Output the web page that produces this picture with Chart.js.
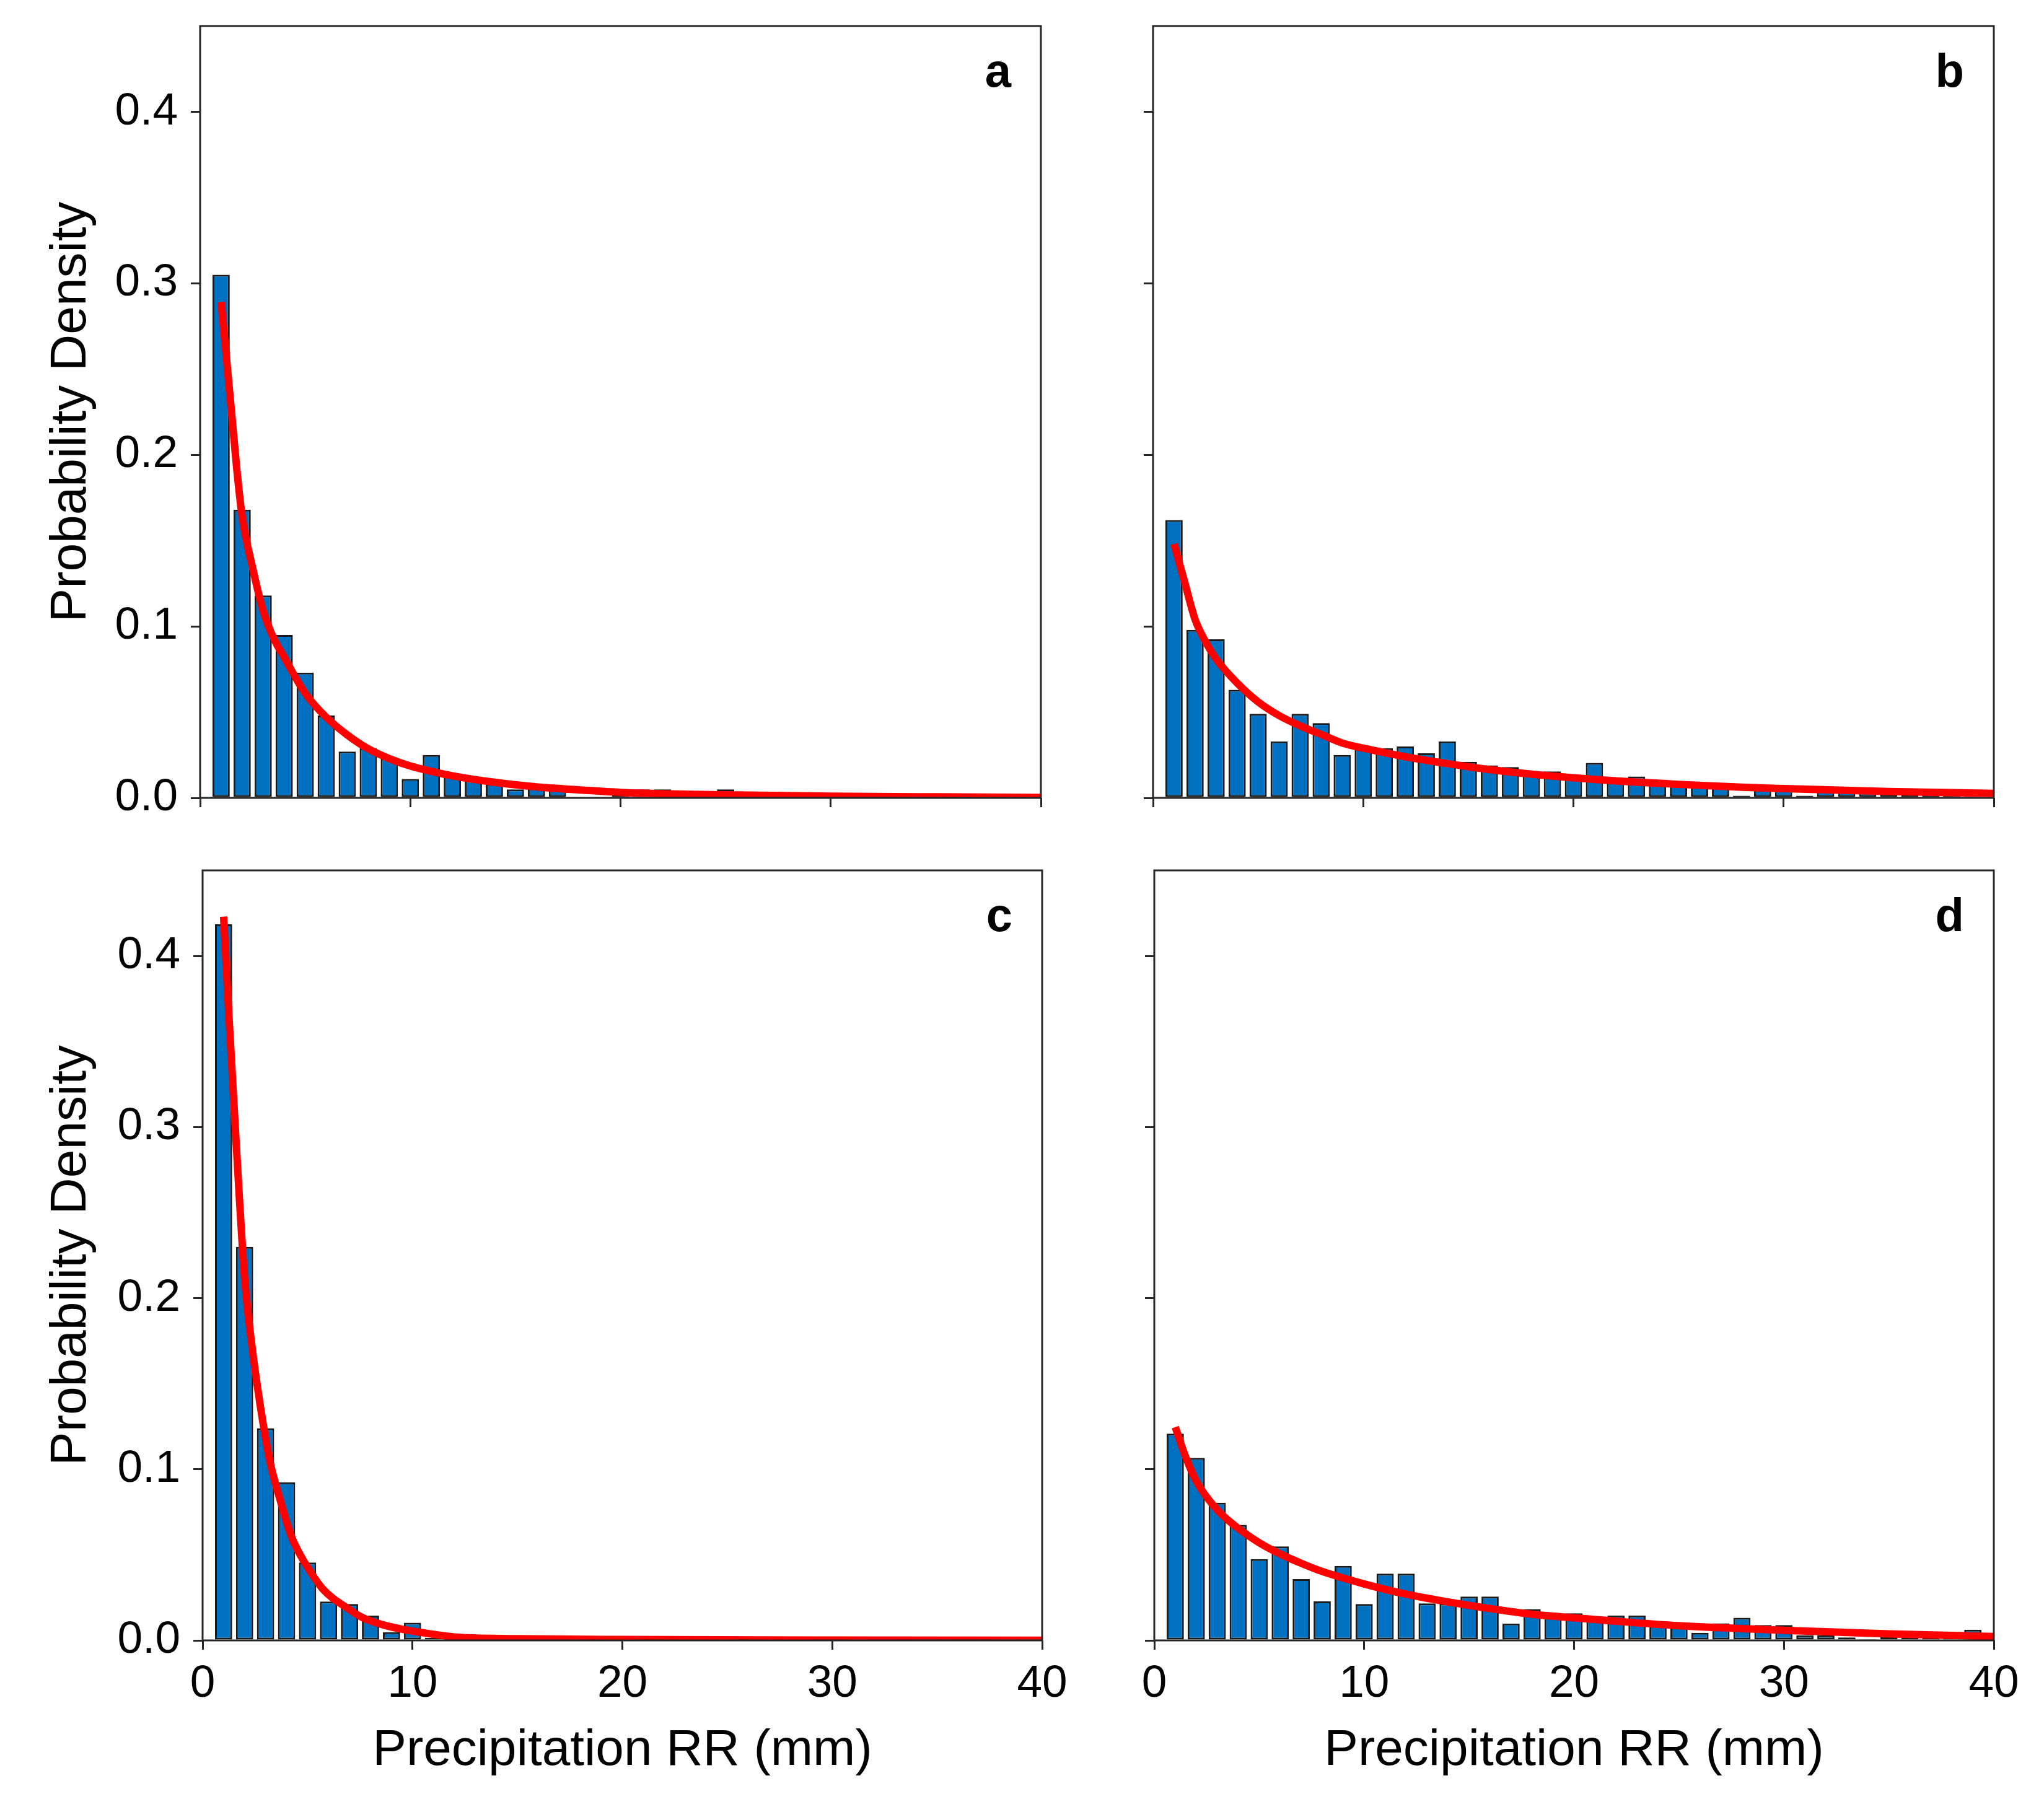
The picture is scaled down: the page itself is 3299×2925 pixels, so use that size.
<!DOCTYPE html>
<html>
<head>
<meta charset="utf-8">
<script src="https://cdn.jsdelivr.net/npm/chart.js@4.4.1/dist/chart.umd.min.js"></script>
<style>
html,body{margin:0;padding:0;background:#ffffff;width:3299px;height:2925px;overflow:hidden;}
canvas{position:absolute;display:block;}
</style>
</head>
<body>
<canvas id="pa"></canvas>
<canvas id="pb"></canvas>
<canvas id="pc"></canvas>
<canvas id="pd"></canvas>
<script>
// ---------- DATA ----------
const bins = [1,2,3,4,5,6,7,8,9,10,11,12,13,14,15,16,17,18,19,20,21,22,23,24,25,26,27,28,29,30,31,32,33,34,35,36,37,38,39];

const densityA = [0.305,0.168,0.118,0.095,0.073,0.048,0.027,0.029,0.023,0.011,
                  0.025,0.014,0.010,0.008,0.005,0.006,0.006,0.0005,0.0005,0.002,
                  0.005,0.005,0.0015,0.0015,0.005,0.001,0.002,0.001,0.001,0.001,
                  0.0026,0.0026,0.001,0.0005,0.001,0.0005,0.0022,0.0005,0.0005];
const densityB = [0.162,0.098,0.0925,0.063,0.049,0.033,0.049,0.0436,0.025,0.030,
                  0.029,0.030,0.026,0.033,0.021,0.019,0.018,0.0156,0.0154,0.012,
                  0.0204,0.011,0.0125,0.0096,0.0096,0.0078,0.0085,0.0013,0.0066,0.0066,
                  0.0013,0.004,0.0058,0.0058,0.003,0.003,0.0025,0.004,0.0025];
const densityC = [0.4185,0.230,0.124,0.0924,0.0455,0.0227,0.0213,0.0145,0.0048,0.0103,
                  0.0015,0.001,0.0008,0.0008,0.001,0.001,0.0015,0,0,0,
                  0,0,0,0,0,0,0,0,0,0,
                  0,0,0,0,0,0,0,0,0];
const densityD = [0.1208,0.1066,0.0805,0.0675,0.0475,0.0549,0.0358,0.0228,0.0435,0.0213,
                  0.039,0.039,0.0216,0.0216,0.0256,0.0256,0.0099,0.0183,0.016,0.0158,
                  0.0125,0.0146,0.0146,0.010,0.008,0.0044,0.010,0.0132,0.009,0.009,
                  0.003,0.003,0.0017,0.0003,0.002,0.002,0.002,0.002,0.0062];

const fitXA = [1,1.25,1.5,1.75,2,2.5,3,3.5,4,5,6,7,8,9,10,11,12,14,16,18,20,25,30,35,40];
const fitYA = [0.289,0.257,0.224,0.191,0.164,0.134,0.109,0.093,0.082,0.061,0.047,0.0367,0.0286,0.0229,0.0186,0.0155,0.0129,0.0091,0.0064,0.0047,0.0032,0.0018,0.001,0.0006,0.0003];

const fitXB = [1,1.5,2,2.5,3,4,5,6,7,8,9,10,12,14,16,18,20,22,25,28,30,35,40];
const fitYB = [0.148,0.126,0.104,0.091,0.081,0.067,0.056,0.048,0.042,0.037,0.032,0.029,0.024,0.020,0.0165,0.0138,0.0117,0.0099,0.0079,0.0062,0.0054,0.0037,0.0026];

const fitXC = [1,1.25,1.5,1.75,2,2.35,2.75,3.2,3.7,4.2,4.7,5.2,5.7,6.2,6.7,7.6,8.6,9.6,10.6,12,15,20,30,40];
const fitYC = [0.423,0.366,0.312,0.259,0.212,0.172,0.137,0.105,0.0819,0.0617,0.0489,0.0389,0.0304,0.0247,0.0205,0.0134,0.0091,0.0063,0.0043,0.002,0.001,0.0005,0.0002,0.0001];

const fitXD = [1,1.5,2,3,4,5,6,7,8,10,12,14,16,18,20,22,25,30,35,40];
const fitYD = [0.1246,0.107,0.0931,0.0763,0.0655,0.0571,0.0505,0.0451,0.0403,0.033,0.027,0.0225,0.0186,0.0153,0.0132,0.0112,0.0086,0.0059,0.0038,0.0023];

const xTickValues = [0,10,20,30,40];
const xTickLabels = ['0','10','20','30','40'];
const yTickValues = [0,0.1,0.2,0.3,0.4];
const yTickLabels = ['0.0','0.1','0.2','0.3','0.4'];

const panelLetters = ['a','b','c','d'];
const xTitle = 'Precipitation RR (mm)';
const yTitle = 'Probability Density';

// ---------- STYLE / LAYOUT ----------
Chart.defaults.font.family = '"Liberation Sans", Arial, sans-serif';
Chart.defaults.color = '#000000';

const AXIS_COLOR = '#262626';
const TICK_FONT = 73;
const TITLE_FONT = 82;

const framePlugin = {
  id: 'frame',
  afterDatasetsDraw(chart) {
    const {ctx, chartArea: a} = chart;
    ctx.save();
    ctx.strokeStyle = AXIS_COLOR;
    ctx.lineWidth = 3;
    ctx.strokeRect(a.left, a.top, a.right - a.left, a.bottom - a.top);
    ctx.restore();
  }
};

const letterPlugin = {
  id: 'panelLetter',
  afterDraw(chart, args, opts) {
    const {ctx, chartArea: a} = chart;
    ctx.save();
    ctx.font = 'bold 76px "Liberation Sans", Arial, sans-serif';
    ctx.fillStyle = '#000000';
    ctx.textAlign = 'right';
    ctx.textBaseline = 'alphabetic';
    ctx.fillText(opts.text, a.right - 48, a.top + 98);
    ctx.restore();
  }
};

const panels = [
  {id:'pa', left:0,    top:0,    w:1760, h:1350, bars:densityA, fx:fitXA, fy:fitYA, letter:panelLetters[0],
   pad:{left:0, top:42, right:80, bottom:0}, yW:323, xH:62, yLab:true,  xLab:false},
  {id:'pb', left:1760, top:0,    w:1539, h:1350, bars:densityB, fx:fitXB, fy:fitYB, letter:panelLetters[1],
   pad:{left:0, top:42, right:81, bottom:0}, yW:101, xH:62, yLab:false, xLab:false},
  {id:'pc', left:0,    top:1350, w:1760, h:1575, bars:densityC, fx:fitXC, fy:fitYC, letter:panelLetters[2],
   pad:{left:0, top:55, right:78, bottom:0}, yW:327, xH:277, yLab:true,  xLab:true},
  {id:'pd', left:1760, top:1350, w:1539, h:1575, bars:densityD, fx:fitXD, fy:fitYD, letter:panelLetters[3],
   pad:{left:0, top:55, right:81, bottom:0}, yW:103, xH:277, yLab:false, xLab:true}
];

function zeroPad(s) { s.paddingLeft = 0; s.paddingRight = 0; s.paddingTop = 0; s.paddingBottom = 0; }

panels.forEach(p => {
  const cv = document.getElementById(p.id);
  cv.width = p.w; cv.height = p.h;
  cv.style.left = p.left + 'px'; cv.style.top = p.top + 'px';
  cv.style.width = p.w + 'px'; cv.style.height = p.h + 'px';

  new Chart(cv, {
    type: 'bar',
    data: {
      datasets: [
        {
          type: 'line',
          data: p.fx.map((x, i) => ({x: x, y: p.fy[i]})),
          borderColor: '#ff0000',
          borderWidth: 12,
          pointRadius: 0,
          cubicInterpolationMode: 'monotone',
          borderCapStyle: 'butt',
          fill: false,
          order: 0
        },
        {
          type: 'bar',
          data: bins.map((x, i) => ({x: x, y: p.bars[i]})),
          backgroundColor: '#0070c0',
          borderColor: '#1a1a1a',
          borderWidth: 3,
          borderSkipped: false,
          barPercentage: 0.82,
          categoryPercentage: 1.0,
          order: 1
        }
      ]
    },
    options: {
      responsive: false,
      maintainAspectRatio: false,
      animation: false,
      devicePixelRatio: 1,
      layout: {padding: p.pad},
      plugins: {
        legend: {display: false},
        tooltip: {enabled: false},
        panelLetter: {text: p.letter}
      },
      scales: {
        x: {
          type: 'linear', min: 0, max: 40, offset: false,
          grid: {display: true, offset: false, drawOnChartArea: false, drawTicks: true,
                 tickLength: 15, color: AXIS_COLOR, lineWidth: 3},
          border: {display: false},
          ticks: {display: p.xLab, font: {size: TICK_FONT}, color: '#000', padding: 12,
                  maxRotation: 0, autoSkip: false,
                  callback: (v) => { const i = xTickValues.indexOf(v); return i >= 0 ? xTickLabels[i] : ''; }},
          title: {display: p.xLab, text: xTitle, font: {size: TITLE_FONT, lineHeight: 1.2}, color: '#000',
                  padding: {top: 0, bottom: 49}},
          afterBuildTicks: (s) => { s.ticks = xTickValues.map(v => ({value: v})); },
          afterFit: (s) => { s.height = p.xH; zeroPad(s); }
        },
        y: {
          type: 'linear', min: 0, max: 0.45,
          grid: {display: true, drawOnChartArea: false, drawTicks: true,
                 tickLength: 15, color: AXIS_COLOR, lineWidth: 3},
          border: {display: false},
          ticks: {display: p.yLab, font: {size: TICK_FONT}, color: '#000', padding: 21,
                  callback: (v) => { const i = yTickValues.indexOf(v); return i >= 0 ? yTickLabels[i] : ''; }},
          title: {display: p.yLab, text: yTitle, font: {size: TITLE_FONT, lineHeight: 1.2}, color: '#000',
                  padding: {top: 66, bottom: 0}},
          afterBuildTicks: (s) => { s.ticks = yTickValues.map(v => ({value: v})); },
          afterFit: (s) => { s.width = p.yW; zeroPad(s); }
        }
      }
    },
    plugins: [framePlugin, letterPlugin]
  });
});
</script>
</body>
</html>
